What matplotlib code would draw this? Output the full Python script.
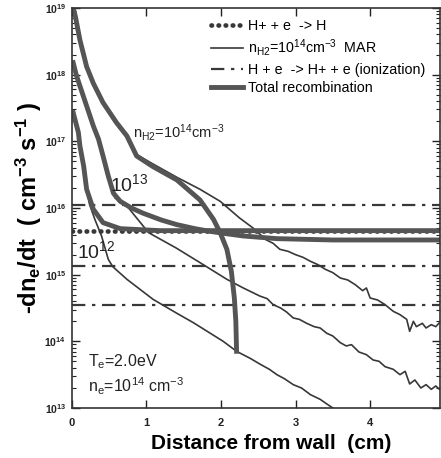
import numpy as np
import matplotlib.pyplot as plt
from matplotlib.ticker import LogLocator, NullFormatter

plt.rcParams['font.family'] = ['Liberation Sans', 'DejaVu Sans']
plt.rcParams['mathtext.default'] = 'regular'

# values: x = distance from wall (cm), y = log10(-dn_e/dt)
# H+ + e -> H (radiative recombination)
rad_level = 15.65
# H + e -> H+ + e (ionization), for n_H2 = 1e14, 1e13, 1e12
ion_levels = [16.05, 15.13, 14.54]

# total recombination, n_H2 = 1e14
tot14_x = [0.02, 0.05, 0.11, 0.20, 0.29, 0.42, 0.60, 0.74, 0.87, 1.09, 1.41, 1.72,
           1.90, 1.99, 2.08, 2.14, 2.18, 2.20, 2.21]
tot14_y = [19.0, 18.87, 18.52, 18.12, 17.87, 17.58, 17.28, 17.08, 16.78, 16.62, 16.42, 16.12,
           15.83, 15.63, 15.38, 15.05, 14.65, 14.30, 13.85]
# total recombination, n_H2 = 1e13
tot13_x = [0.02, 0.06, 0.11, 0.20, 0.29, 0.36, 0.42, 0.49, 0.56, 0.65, 0.80, 0.96, 1.20,
           1.41, 1.65, 1.85, 2.10, 2.30, 2.75, 3.50, 4.93]
tot13_y = [18.18, 18.0, 17.83, 17.53, 17.23, 17.03, 16.78, 16.48, 16.22, 16.10, 16.0, 15.92,
           15.82, 15.75, 15.69, 15.65, 15.61, 15.58, 15.54, 15.52, 15.52]
# total recombination, n_H2 = 1e12
tot12_x = [0.02, 0.09, 0.11, 0.16, 0.20, 0.29, 0.42, 0.65, 1.18, 4.93]
tot12_y = [17.43, 17.13, 16.93, 16.63, 16.28, 15.98, 15.78, 15.69, 15.66, 15.66]

# MAR, n_H2 = 1e14
mar14_x = [0.02, 0.05, 0.11, 0.20, 0.29, 0.42, 0.60, 0.74, 0.87, 1.09, 1.41, 1.72, 1.99,
           2.25, 2.43, 2.61, 2.70, 2.79, 2.90, 3.00, 3.10, 3.20, 3.30, 3.40, 3.50, 3.60,
           3.70, 3.80, 3.90, 3.95, 4.00, 4.10, 4.20, 4.31, 4.40, 4.49, 4.53, 4.58, 4.62,
           4.70, 4.75, 4.82, 4.88, 4.93]
mar14_y = [19.0, 18.87, 18.52, 18.12, 17.87, 17.58, 17.28, 17.08, 16.80, 16.66, 16.46, 16.28,
           16.10, 15.85, 15.70, 15.52, 15.47, 15.38, 15.35, 15.30, 15.26, 15.20, 15.15, 15.08,
           15.03, 14.95, 14.92, 14.85, 14.76, 14.80, 14.65, 14.62, 14.55, 14.45, 14.40, 14.33,
           14.15, 14.30, 14.22, 14.27, 14.20, 14.25, 14.22, 14.28]
# MAR, n_H2 = 1e13
mar13_x = [0.02, 0.06, 0.11, 0.20, 0.29, 0.36, 0.42, 0.49, 0.58, 0.74, 1.03, 1.40, 1.72,
           2.08, 2.30, 2.52, 2.62, 2.70, 2.80, 2.88, 2.97, 3.05, 3.15, 3.25, 3.33, 3.42,
           3.50, 3.60, 3.68, 3.75, 3.85, 3.95, 4.04, 4.12, 4.20, 4.31, 4.40, 4.47, 4.53,
           4.60, 4.68, 4.75, 4.82, 4.88, 4.93]
mar13_y = [18.18, 18.0, 17.83, 17.53, 17.23, 17.03, 16.78, 16.48, 16.15, 16.03, 15.63, 15.40,
           15.18, 14.93, 14.80, 14.68, 14.64, 14.55, 14.50, 14.44, 14.35, 14.33, 14.27, 14.22,
           14.20, 14.12, 14.08, 13.98, 13.93, 13.95, 13.84, 13.80, 13.72, 13.70, 13.62, 13.58,
           13.50, 13.55, 13.36, 13.42, 13.30, 13.35, 13.28, 13.33, 13.28]
# MAR, n_H2 = 1e12
mar12_x = [0.02, 0.09, 0.11, 0.16, 0.20, 0.24, 0.31, 0.40, 0.49, 0.55, 0.74, 1.09, 1.41,
           1.63, 2.03, 2.21, 2.40, 2.52, 2.65, 2.75, 2.85, 2.97, 3.08, 3.20, 3.33, 3.42, 3.50]
mar12_y = [17.43, 17.13, 16.93, 16.63, 16.28, 16.05, 15.83, 15.58, 15.23, 15.12, 14.93, 14.63,
           14.42, 14.28, 14.0, 13.85, 13.74, 13.66, 13.58, 13.50, 13.44, 13.35, 13.30, 13.20,
           13.13, 13.06, 13.0]

legend_labels = ['H+ + e  -> H', 'n$_{H2}$=10$^{14}$cm$^{-3}$  MAR',
                 'H + e  -> H+ + e (ionization)', 'Total recombination']
x_ticks = [0, 1, 2, 3, 4]
y_ticks = [13, 14, 15, 16, 17, 18, 19]

ink = '#383838'
thick = '#555555'

fig = plt.figure(figsize=(4.41, 4.58), dpi=100)
ax = fig.add_axes([0.1626, 0.1092, 0.834, 0.8734])

# horizontal reference lines
ax.axhline(10 ** rad_level, color=ink, lw=3.4, ls=(0, (0.1, 1.4)),
           dash_capstyle='round', label=legend_labels[0])
for i, lev in enumerate(ion_levels):
    ax.axhline(10 ** lev, color=ink, lw=1.6, ls=(0, (6, 3, 1.5, 3)),
               label=legend_labels[2] if i == 0 else None)

# thin MAR curves
ax.plot(mar14_x, 10 ** np.array(mar14_y), color=ink, lw=1.2, label=legend_labels[1])
ax.plot(mar13_x, 10 ** np.array(mar13_y), color=ink, lw=1.2)
ax.plot(mar12_x, 10 ** np.array(mar12_y), color=ink, lw=1.2)

# thick total recombination curves
ax.plot(tot14_x, 10 ** np.array(tot14_y), color=thick, lw=3.5, label=legend_labels[3])
ax.plot(tot13_x, 10 ** np.array(tot13_y), color=thick, lw=3.5)
ax.plot(tot12_x, 10 ** np.array(tot12_y), color=thick, lw=3.5)

ax.set_yscale('log')
ax.set_xlim(0, 4.93)
ax.set_ylim(1e13, 1e19)

ax.set_xticks(x_ticks)
ax.set_xticklabels([str(t) for t in x_ticks], fontweight='bold', fontsize=8)
ax.set_yticks([10.0 ** t for t in y_ticks])
ax.set_yticklabels(['10$^{%d}$' % t for t in y_ticks], fontweight='bold', fontsize=7.5)
ax.yaxis.set_minor_locator(LogLocator(base=10, subs=np.arange(2, 10)))
ax.yaxis.set_minor_formatter(NullFormatter())
ax.tick_params(which='both', direction='in', top=True, right=True, colors='#222222')
ax.tick_params(axis='x', which='major', length=6, width=1.0, pad=7)
ax.tick_params(axis='y', which='major', length=6, width=1.0, pad=4)
ax.tick_params(which='minor', length=3, width=0.8)
for s in ax.spines.values():
    s.set_color('#333333')
    s.set_linewidth(1.2)

ax.set_xlabel('Distance from wall  (cm)', fontsize=15, fontweight='bold')
ax.xaxis.set_label_coords(0.543, -0.065)
ax.set_ylabel('-dn$_e$/dt  ( cm$^{-3}$ s$^{-1}$ )', fontsize=17, fontweight='bold', labelpad=0)

# curve labels
ax.text(0.82, 10 ** 17.05, 'n$_{H2}$=10$^{14}$cm$^{-3}$', fontsize=10.5, color='#222222')
ax.text(0.51, 10 ** 16.25, '10$^{13}$', fontsize=14, color='#222222')
ax.text(0.07, 10 ** 15.25, '10$^{12}$', fontsize=14, color='#222222')
ax.text(0.22, 10 ** 13.63, 'T$_e$=2.0eV', fontsize=11.5, color='#222222')
ax.text(0.22, 10 ** 13.23, 'n$_e$=10$^{14}$ cm$^{-3}$', fontsize=11.5, color='#222222')

handles, labels = ax.get_legend_handles_labels()
order = [labels.index(l) for l in legend_labels]
ax.legend([handles[i] for i in order], [labels[i] for i in order], loc='upper left',
          bbox_to_anchor=(0.36, 0.99), frameon=False, fontsize=10.3, handlelength=2.2,
          handletextpad=0.4, labelspacing=0.3, borderpad=0)

fig.savefig('out.png', dpi=100)
